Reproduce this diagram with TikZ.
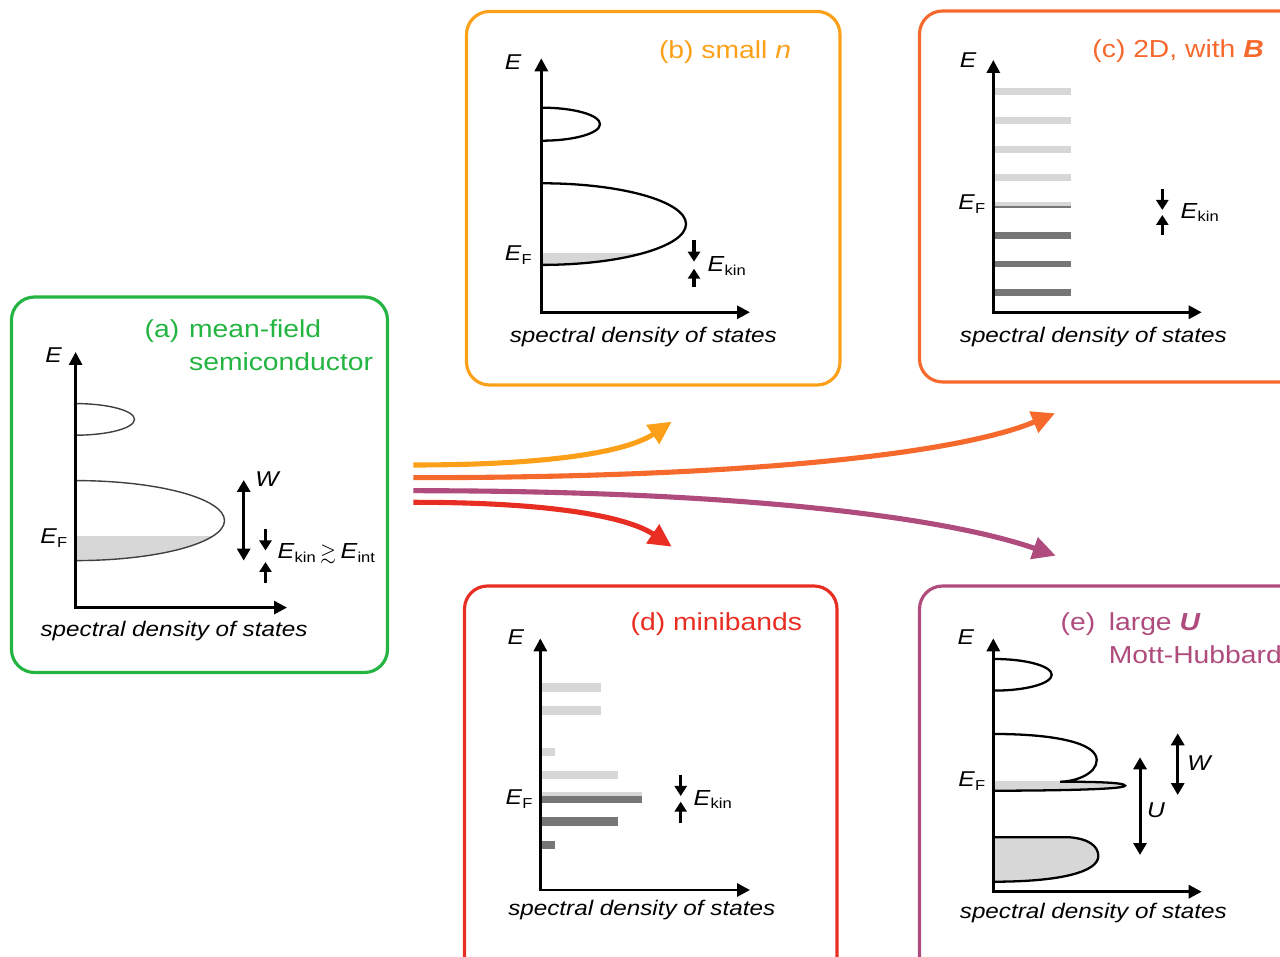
\documentclass[tikz,border=0pt]{standalone}
\usepackage{fontspec}
\setmainfont[FakeStretch=1.15]{Liberation Sans}
\usepackage{amssymb}
\usetikzlibrary{arrows.meta, positioning, calc}
\definecolor{meanfield}{RGB}{35,180,65}
\definecolor{smalln}{RGB}{252,160,25}
\definecolor{withB}{RGB}{245,105,45}
\definecolor{minib}{RGB}{232,45,35}
\definecolor{mott}{RGB}{175,75,125}
\definecolor{occlight}{RGB}{215,215,215}
\definecolor{occdark}{RGB}{118,118,118}
\newcommand{\ttlsize}{\fontsize{7}{9.4}\selectfont}
\newcommand{\lblsize}{\fontsize{6.1}{7}\selectfont}
\newcommand{\gapsize}{\fontsize{6.2}{7}\selectfont}
\newcommand{\dossize}{\fontsize{6}{7}\selectfont}
\newcommand{\Elvl}[1]{\textit{E}\raisebox{-0.3ex}{\fontsize{4.1}{5}\selectfont #1}}

\begin{document}
\begin{tikzpicture}[
    font=\lblsize,
    panel/.style={line width=0.9pt, rounded corners=2.3mm},
    axis/.style={line width=0.85pt, {Triangle[length=1.3mm,width=1.3mm]}-{Triangle[length=1.3mm,width=1.3mm]}},
    bandthin/.style={draw=black!75, line width=0.4pt},
    band/.style={draw=black, line width=0.65pt},
    gaparrow/.style={line width=0.95pt, -{Triangle[length=1.0mm,width=1.2mm]}},
    widtharrow/.style={line width=0.85pt, {Triangle[length=1.2mm,width=1.3mm]}-{Triangle[length=1.2mm,width=1.3mm]}},
    fanarrow/.style={line width=1.45pt, -{Triangle[length=2.3mm,width=2.2mm]}},
    lvl/.style={line width=1.9pt},
    ttl/.style={font=\ttlsize, anchor=west, inner sep=0pt},
    dos/.style={font=\dossize\itshape, inner sep=0pt},
  ]
  \clip (0,0) rectangle (12.8,9.56);

  % panel frames
  \draw[panel, meanfield] (0.115,6.59) rectangle (3.875,2.835);
  \draw[panel, smalln] (4.665,9.445) rectangle (8.40,5.71);
  \draw[panel, withB] (9.195,9.45) rectangle (13.2,5.74);
  \draw[panel, minib] (4.645,3.70) rectangle (8.37,-0.3);
  \draw[panel, mott] (9.195,3.70) rectangle (13.2,-0.3);

  % (a) mean-field semiconductor
  \node[ttl, meanfield] (ttlA) at (1.44,6.083)
    {\begin{tabular}{@{}l@{\hspace{0.4em}}l@{}}(a) & mean-field\\ & semiconductor\end{tabular}};
  \begin{scope}
    \clip (0.75,3.9) rectangle (2.3,4.196);
    \fill[occlight] (0.756,4.754) arc[start angle=90, end angle=-90, x radius=1.489, y radius=0.40];
  \end{scope}
  \draw[bandthin] (0.756,5.524) arc[start angle=90, end angle=-90, x radius=0.589, y radius=0.158];
  \draw[bandthin] (0.756,4.754) arc[start angle=90, end angle=-90, x radius=1.489, y radius=0.40];
  \draw[axis] (0.756,6.04) -- (0.756,3.484) -- (2.87,3.484);
  \node (EaxA) at (0.538,6.005) {\textit{E}};
  \node (EfA) at (0.538,4.18) {\Elvl{F}};
  \draw[widtharrow] (2.437,4.76) -- (2.437,3.954);
  \node (WA) at (2.68,4.77) {\textit{W}};
  \draw[gaparrow] (2.655,4.267) -- (2.655,4.055);
  \draw[gaparrow] (2.655,3.73) -- (2.655,3.94);
  \node[anchor=west, inner sep=0pt, font=\gapsize] (gapA) at (2.77,4.02)
    {\Elvl{kin}\,{\fontsize{4.6}{5}\selectfont$\gtrsim$}\,\Elvl{int}};
  \node[dos] (dosA) at (1.74,3.25) {spectral density of states};

  % (b) small n
  \node[ttl, smalln] (ttlB) at (6.583,9.04) {(b) small \textit{n}};
  \begin{scope}
    \clip (5.41,6.8) rectangle (6.9,7.027);
    \fill[occlight] (5.42,7.727) arc[start angle=90, end angle=-90, x radius=1.44, y radius=0.408];
  \end{scope}
  \draw[band] (5.42,8.483) arc[start angle=90, end angle=-90, x radius=0.58, y radius=0.165];
  \draw[band] (5.42,7.727) arc[start angle=90, end angle=-90, x radius=1.44, y radius=0.408];
  \draw[axis] (5.413,8.977) -- (5.413,6.437) -- (7.50,6.437);
  \node (EaxB) at (5.133,8.943) {\textit{E}};
  \node (EfB) at (5.183,7.01) {\Elvl{F}};
  \draw[gaparrow] (6.94,7.16) -- (6.94,6.943);
  \draw[gaparrow] (6.94,6.687) -- (6.94,6.873);
  \node[anchor=west, inner sep=0pt, font=\gapsize] (gapB) at (7.07,6.90) {\Elvl{kin}};
  \node[dos] (dosB) at (6.433,6.193) {spectral density of states};

  % (c) 2D, with B
  \node[ttl, withB] (ttlC) at (10.917,9.05) {(c) 2D, with \textbf{\textit{B}}};
  \draw[lvl, occlight] (9.95,8.643) -- (10.71,8.643);
  \draw[lvl, occlight] (9.95,8.353) -- (10.71,8.353);
  \draw[lvl, occlight] (9.95,8.067) -- (10.71,8.067);
  \draw[lvl, occlight] (9.95,7.783) -- (10.71,7.783);
  \draw[occlight, line width=1.1pt] (9.95,7.523) -- (10.71,7.523);
  \draw[occdark, line width=0.75pt] (9.95,7.49) -- (10.71,7.49);
  \draw[lvl, occdark] (9.95,7.207) -- (10.71,7.207);
  \draw[lvl, occdark] (9.95,6.92) -- (10.71,6.92);
  \draw[lvl, occdark] (9.95,6.633) -- (10.71,6.633);
  \draw[axis] (9.933,8.96) -- (9.933,6.437) -- (12.017,6.437);
  \node (EaxC) at (9.683,8.96) {\textit{E}};
  \node (EfC) at (9.717,7.52) {\Elvl{F}};
  \draw[gaparrow] (11.623,7.67) -- (11.623,7.46);
  \draw[gaparrow] (11.623,7.21) -- (11.623,7.41);
  \node[anchor=west, inner sep=0pt, font=\gapsize] (gapC) at (11.80,7.434) {\Elvl{kin}};
  \node[dos] (dosC) at (10.933,6.193) {spectral density of states};

  % (d) minibands
  \node[ttl, minib] (ttlD) at (6.30,3.323) {(d) minibands};
  \fill[occlight] (5.41,2.733) rectangle (6.01,2.643);
  \fill[occlight] (5.41,2.50) rectangle (6.01,2.413);
  \fill[occlight] (5.41,2.083) rectangle (5.55,2.00);
  \fill[occlight] (5.41,1.853) rectangle (6.18,1.767);
  \fill[occlight] (5.41,1.64) rectangle (6.423,1.60);
  \fill[occdark] (5.41,1.60) rectangle (6.423,1.533);
  \fill[occdark] (5.41,1.39) rectangle (6.18,1.30);
  \fill[occdark] (5.41,1.153) rectangle (5.55,1.073);
  \draw[axis] (5.403,3.177) -- (5.403,0.66) -- (7.50,0.66);
  \node (EaxD) at (5.16,3.193) {\textit{E}};
  \node (EfD) at (5.19,1.57) {\Elvl{F}};
  \draw[gaparrow] (6.807,1.81) -- (6.807,1.60);
  \draw[gaparrow] (6.807,1.333) -- (6.807,1.543);
  \node[anchor=west, inner sep=0pt, font=\gapsize] (gapD) at (6.93,1.567) {\Elvl{kin}};
  \node[dos] (dosD) at (6.417,0.46) {spectral density of states};

  % (e) large U, Mott-Hubbard
  \node[ttl, mott] (ttlE) at (10.60,3.16)
    {\begin{tabular}{@{}l@{\hspace{0.55em}}l@{}}(e) & large \textbf{\textit{U}}\\ & Mott-Hubbard\end{tabular}};
  \draw[band] (9.943,2.97) arc[start angle=90, end angle=-90, x radius=0.574, y radius=0.158];
  \begin{scope}
    \clip (9.9,1.6) rectangle (11.3,1.75);
    \fill[occlight] (9.943,2.22) .. controls (10.55,2.22) and (10.967,2.13) .. (10.967,1.96)
      .. controls (10.967,1.82) and (10.75,1.743) .. (10.60,1.743)
      .. controls (10.95,1.743) and (11.25,1.735) .. (11.25,1.703)
      .. controls (11.25,1.665) and (10.5,1.653) .. (9.943,1.653) -- cycle;
  \end{scope}
  \draw[band] (9.943,2.22) .. controls (10.55,2.22) and (10.967,2.13) .. (10.967,1.96)
      .. controls (10.967,1.82) and (10.75,1.743) .. (10.60,1.743)
      .. controls (10.95,1.743) and (11.25,1.735) .. (11.25,1.703)
      .. controls (11.25,1.665) and (10.5,1.653) .. (9.943,1.653);
  \draw[band, fill=occlight] (9.943,1.187) -- (10.70,1.187)
      .. controls (10.90,1.17) and (10.983,1.09) .. (10.983,1.00)
      .. controls (10.983,0.84) and (10.6,0.743) .. (9.943,0.743);
  \draw[axis] (9.933,3.177) -- (9.933,0.643) -- (12.017,0.643);
  \node (EaxE) at (9.66,3.193) {\textit{E}};
  \node (EfE) at (9.717,1.75) {\Elvl{F}};
  \draw[widtharrow] (11.777,2.227) -- (11.777,1.61);
  \node (WE) at (12.00,1.927) {\textit{W}};
  \draw[widtharrow] (11.40,1.987) -- (11.40,1.01);
  \node (UE) at (11.56,1.46) {\textit{U}};
  \node[dos] (dosE) at (10.933,0.427) {spectral density of states};

  % fan of arrows from (a)
  \coordinate (srcB) at (4.133,4.91);
  \coordinate (srcC) at (4.133,4.783);
  \coordinate (srcE) at (4.133,4.653);
  \coordinate (srcD) at (4.133,4.537);
  \coordinate (tipB) at (6.717,5.343);
  \coordinate (tipC) at (10.55,5.427);
  \coordinate (tipE) at (10.557,4.003);
  \coordinate (tipD) at (6.717,4.093);
  \draw[fanarrow, smalln] (srcB) .. controls +(1.47,0) and +(-0.417,-0.283) .. (tipB);
  \draw[fanarrow, withB] (srcC) .. controls +(3.4,0) and +(-0.95,-0.397) .. (tipC);
  \draw[fanarrow, mott] (srcE) .. controls +(3.4,0) and +(-1.057,0.367) .. (tipE);
  \draw[fanarrow, minib] (srcD) .. controls +(1.47,0) and +(-0.417,0.283) .. (tipD);
\end{tikzpicture}
\end{document}
